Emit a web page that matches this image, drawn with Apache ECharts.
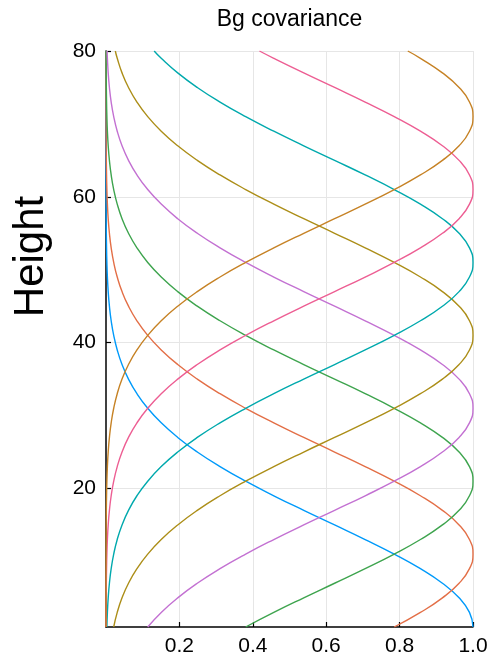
<!DOCTYPE html>
<html>
<head>
<meta charset="utf-8">
<script src="https://cdn.jsdelivr.net/npm/echarts@6/dist/echarts.min.js"></script>
<style>
html,body{margin:0;padding:0;background:#fff;}
#chart{width:491px;height:657px;}
</style>
</head>
<body>
<div id="chart"></div>
<script>
// Heights (y values)
const heights = [1,3,5,7,9,11,13,15,17,19,21,23,25,27,29,31,33,35,37,39,41,43,45,47,49,51,53,55,57,59,61,63,65,67,69,71,73,75,77,79,80];

// Covariance values for each column (peaks at 1, 11, 21, ..., 71)
const cov1 = [1,0.9904,0.9621,0.9167,0.8568,0.7854,0.7062,0.6229,0.5388,0.4572,0.3806,0.3107,0.2487,0.1954,0.1505,0.1137,0.0843,0.0613,0.0437,0.0306,0.0210,0.0141,0.0093,0.0060,0.0038,0.0024,0.0015,0.0009,0.0005,0.0003,0.0002,0.0001,0,0,0,0,0,0,0,0,0];
const cov11 = [0.7854,0.8568,0.9167,0.9621,0.9904,1,0.9904,0.9621,0.9167,0.8568,0.7854,0.7062,0.6229,0.5388,0.4572,0.3806,0.3107,0.2487,0.1954,0.1505,0.1137,0.0843,0.0613,0.0437,0.0306,0.0210,0.0141,0.0093,0.0060,0.0038,0.0024,0.0015,0.0009,0.0005,0.0003,0.0002,0.0001,0,0,0,0];
const cov21 = [0.3806,0.4572,0.5388,0.6229,0.7062,0.7854,0.8568,0.9167,0.9621,0.9904,1,0.9904,0.9621,0.9167,0.8568,0.7854,0.7062,0.6229,0.5388,0.4572,0.3806,0.3107,0.2487,0.1954,0.1505,0.1137,0.0843,0.0613,0.0437,0.0306,0.0210,0.0141,0.0093,0.0060,0.0038,0.0024,0.0015,0.0009,0.0005,0.0003,0.0002];
const cov31 = [0.1137,0.1505,0.1954,0.2487,0.3107,0.3806,0.4572,0.5388,0.6229,0.7062,0.7854,0.8568,0.9167,0.9621,0.9904,1,0.9904,0.9621,0.9167,0.8568,0.7854,0.7062,0.6229,0.5388,0.4572,0.3806,0.3107,0.2487,0.1954,0.1505,0.1137,0.0843,0.0613,0.0437,0.0306,0.0210,0.0141,0.0093,0.0060,0.0038,0.0030];
const cov41 = [0.0210,0.0306,0.0437,0.0613,0.0843,0.1137,0.1505,0.1954,0.2487,0.3107,0.3806,0.4572,0.5388,0.6229,0.7062,0.7854,0.8568,0.9167,0.9621,0.9904,1,0.9904,0.9621,0.9167,0.8568,0.7854,0.7062,0.6229,0.5388,0.4572,0.3806,0.3107,0.2487,0.1954,0.1505,0.1137,0.0843,0.0613,0.0437,0.0306,0.0254];
const cov51 = [0.0024,0.0038,0.0060,0.0093,0.0141,0.0210,0.0306,0.0437,0.0613,0.0843,0.1137,0.1505,0.1954,0.2487,0.3107,0.3806,0.4572,0.5388,0.6229,0.7062,0.7854,0.8568,0.9167,0.9621,0.9904,1,0.9904,0.9621,0.9167,0.8568,0.7854,0.7062,0.6229,0.5388,0.4572,0.3806,0.3107,0.2487,0.1954,0.1505,0.1312];
const cov61 = [0.0002,0.0003,0.0005,0.0009,0.0015,0.0024,0.0038,0.0060,0.0093,0.0141,0.0210,0.0306,0.0437,0.0613,0.0843,0.1137,0.1505,0.1954,0.2487,0.3107,0.3806,0.4572,0.5388,0.6229,0.7062,0.7854,0.8568,0.9167,0.9621,0.9904,1,0.9904,0.9621,0.9167,0.8568,0.7854,0.7062,0.6229,0.5388,0.4572,0.4181];
const cov71 = [0,0,0,0,0.0001,0.0002,0.0003,0.0005,0.0009,0.0015,0.0024,0.0038,0.0060,0.0093,0.0141,0.0210,0.0306,0.0437,0.0613,0.0843,0.1137,0.1505,0.1954,0.2487,0.3107,0.3806,0.4572,0.5388,0.6229,0.7062,0.7854,0.8568,0.9167,0.9621,0.9904,1,0.9904,0.9621,0.9167,0.8568,0.8223];

const xTicks = [0.2,0.4,0.6,0.8,1.0];
const yTicks = [20,40,60,80];

const columns = [cov1,cov11,cov21,cov31,cov41,cov51,cov61,cov71];
const colors = ['#009AFA','#E36F47','#3EA44E','#C371D2','#AC8E18','#00A9AD','#ED5E93','#C68225'];

const FONT = '"Liberation Sans", Arial, Helvetica, sans-serif';
const chart = echarts.init(document.getElementById('chart'), null, {renderer:'canvas'});

const series = columns.map((col, i) => ({
  type: 'line',
  data: heights.map((h, k) => [col[k], h]),
  showSymbol: false,
  smooth: true,
  lineStyle: {color: colors[i], width: 1.4},
  itemStyle: {color: colors[i]},
  emphasis: {disabled: true},
  z: 3
}));

chart.setOption({
  animation: false,
  backgroundColor: '#fff',
  grid: {left: 106, top: 51, width: 367, height: 578, containLabel: false},
  xAxis: {
    type: 'value', min: 0, max: 1, interval: 0.2,
    axisLine: {show: true, onZero: false, lineStyle: {color: '#000', width: 1.5}},
    axisTick: {show: true, inside: true, length: 5, lineStyle: {color: '#000', width: 1.2}, customValues: xTicks},
    axisLabel: {customValues: xTicks, color: '#000', fontSize: 21, fontFamily: FONT, margin: 9,
      formatter: v => v.toFixed(1)},
    splitLine: {show: true, lineStyle: {color: '#e6e6e6', width: 1}}
  },
  yAxis: {
    type: 'value', min: 1, max: 80,
    axisLine: {show: true, onZero: false, lineStyle: {color: '#000', width: 1.5}},
    axisTick: {show: true, inside: true, length: 5, lineStyle: {color: '#000', width: 1.2}, customValues: yTicks},
    axisLabel: {customValues: yTicks, color: '#000', fontSize: 21, fontFamily: FONT, margin: 10,
      formatter: v => String(v)},
    splitLine: {show: true, lineStyle: {color: '#e6e6e6', width: 1}}
  },
  graphic: [
    {type: 'text', x: 289.5, y: 20, style: {text: 'Bg covariance', fontSize: 23, fontFamily: FONT, fill: '#000', align: 'center', verticalAlign: 'middle'}},
    {type: 'text', x: 31, y: 256.5, rotation: Math.PI / 2, style: {text: 'Height', fontSize: 42, fontFamily: FONT, fill: '#000', align: 'center', verticalAlign: 'middle'}}
  ],
  series: series
});
</script>
</body>
</html>
